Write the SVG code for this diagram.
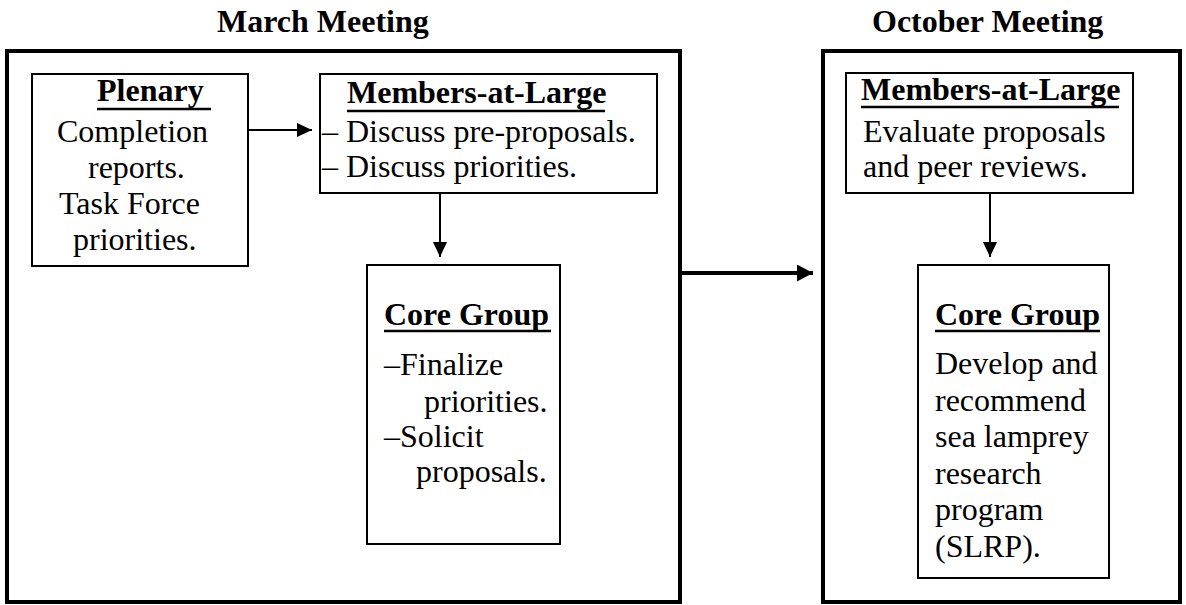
<svg xmlns="http://www.w3.org/2000/svg" width="1186" height="605" viewBox="0 0 1186 605">
<style>
text{font-family:"Liberation Serif","Times New Roman",serif;font-size:32px;fill:#000}
.b{font-weight:bold}
.outer{fill:#fff;stroke:#000;stroke-width:4}
.box{fill:#fff;stroke:#000;stroke-width:2}
.ul{stroke:#000;stroke-width:2.5}
.c1{stroke:#000;stroke-width:2;fill:none}
.c2{stroke:#000;stroke-width:4;fill:none}
</style>
<defs>
<marker id="ah" markerUnits="userSpaceOnUse" markerWidth="15" markerHeight="14" refX="15" refY="7" orient="auto"><path d="M0,0 L15,7 L0,14 z" fill="#000"/></marker>
<marker id="ahb" markerUnits="userSpaceOnUse" markerWidth="16" markerHeight="17" refX="16" refY="8.5" orient="auto"><path d="M0,0 L16,8.5 L0,17 z" fill="#000"/></marker>
</defs>
<rect width="1186" height="605" fill="#fff"/>
<g id="march">
<rect class="outer" x="7" y="51" width="673" height="551"/>
<text class="b" x="217" y="32">March Meeting</text>
</g>
<g id="october">
<rect class="outer" x="823" y="51" width="357" height="551"/>
<text class="b" x="872" y="32">October Meeting</text>
</g>
<g id="plenary">
<rect class="box" x="32" y="74" width="216" height="192"/>
<text class="b" x="97" y="101">Plenary</text>
<line class="ul" x1="97" y1="109" x2="211" y2="109"/>
<text x="57" y="142">Completion</text>
<text x="88" y="178">reports.</text>
<text x="59" y="214">Task Force</text>
<text x="73" y="250">priorities.</text>
</g>
<g id="members-march">
<rect class="box" x="320" y="74" width="337" height="119"/>
<text class="b" x="347" y="103">Members-at-Large</text>
<line class="ul" x1="347" y1="111" x2="605" y2="111"/>
<text x="322" y="142">– Discuss pre-proposals.</text>
<text x="322" y="177">– Discuss priorities.</text>
</g>
<g id="core-march">
<rect class="box" x="367" y="265" width="193" height="279"/>
<text class="b" x="384" y="325">Core Group</text>
<line class="ul" x1="384" y1="331" x2="551" y2="331"/>
<text x="384" y="375">–Finalize</text>
<text x="424" y="412">priorities.</text>
<text x="384" y="447">–Solicit</text>
<text x="416" y="482">proposals.</text>
</g>
<g id="members-october">
<rect class="box" x="846" y="73" width="287" height="120"/>
<text class="b" x="861" y="100">Members-at-Large</text>
<line class="ul" x1="861" y1="107" x2="1119" y2="107"/>
<text x="863" y="142">Evaluate proposals</text>
<text x="863" y="177">and peer reviews.</text>
</g>
<g id="core-october">
<rect class="box" x="918" y="265" width="191" height="313"/>
<text class="b" x="935" y="325">Core Group</text>
<line class="ul" x1="935" y1="331" x2="1100" y2="331"/>
<text x="935" y="374">Develop and</text>
<text x="935" y="410.5">recommend</text>
<text x="935" y="447">sea lamprey</text>
<text x="935" y="483.5">research</text>
<text x="935" y="520">program</text>
<text x="935" y="556.5">(SLRP).</text>
</g>
<g id="connectors">
<path class="c1" d="M249,130 H312" marker-end="url(#ah)"/>
<path class="c1" d="M440,194 V257" marker-end="url(#ah)"/>
<path class="c1" d="M990,194 V257" marker-end="url(#ah)"/>
<path class="c2" d="M682,273 H813" marker-end="url(#ahb)"/>
</g>
</svg>
